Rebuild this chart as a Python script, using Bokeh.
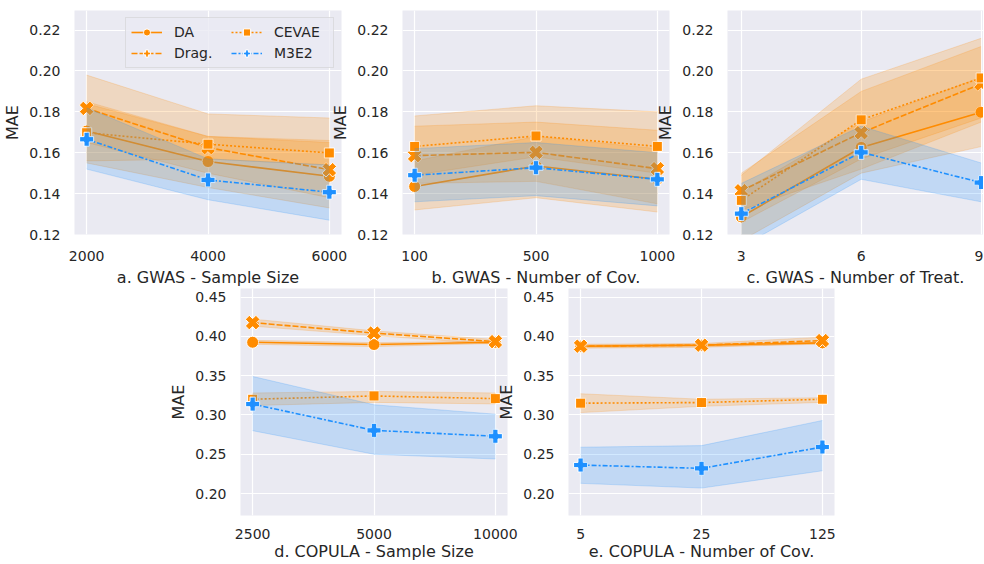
import numpy as np
from bokeh.plotting import figure
from bokeh.layouts import row, column
from bokeh.models import FixedTicker, Range1d, Legend, LegendItem, PrintfTickFormatter
from bokeh.embed import file_html
from bokeh.resources import INLINE

methods = ["DA", "Drag.", "CEVAE", "M3E2"]

# ---- a. GWAS - Sample Size
a_x = ["2000", "4000", "6000"]
a_da = [0.1706, 0.1557, 0.1485];    a_da_lo = [0.155, 0.143, 0.133];    a_da_hi = [0.185, 0.168, 0.165]
a_drag = [0.1817, 0.1625, 0.1517];  a_drag_lo = [0.165, 0.150, 0.138];  a_drag_hi = [0.198, 0.179, 0.177]
a_cevae = [0.1698, 0.1642, 0.1599]; a_cevae_lo = [0.156, 0.157, 0.154]; a_cevae_hi = [0.184, 0.168, 0.166]
a_m3e2 = [0.1666, 0.1467, 0.1407];  a_m3e2_lo = [0.152, 0.137, 0.127];  a_m3e2_hi = [0.182, 0.157, 0.154]

# ---- b. GWAS - Number of Cov.
b_x = ["100", "500", "1000"]
b_da = [0.1435, 0.1535, 0.1470];    b_da_lo = [0.132, 0.138, 0.131];    b_da_hi = [0.156, 0.168, 0.162]
b_drag = [0.1586, 0.1602, 0.1522];  b_drag_lo = [0.145, 0.146, 0.135];  b_drag_hi = [0.173, 0.175, 0.171]
b_cevae = [0.1631, 0.1682, 0.1631]; b_cevae_lo = [0.149, 0.158, 0.150]; b_cevae_hi = [0.178, 0.183, 0.180]
b_m3e2 = [0.1490, 0.1527, 0.1470];  b_m3e2_lo = [0.136, 0.139, 0.134];  b_m3e2_hi = [0.162, 0.165, 0.160]

# ---- c. GWAS - Number of Treat.
c_x = ["3", "6", "9"]
c_da = [0.1286, 0.1626, 0.1798];    c_da_lo = [0.117, 0.150, 0.163];    c_da_hi = [0.141, 0.175, 0.197]
c_drag = [0.1414, 0.1698, 0.1937];  c_drag_lo = [0.132, 0.152, 0.175];  c_drag_hi = [0.150, 0.190, 0.212]
c_cevae = [0.1367, 0.1761, 0.1966]; c_cevae_lo = [0.126, 0.157, 0.177]; c_cevae_hi = [0.149, 0.196, 0.216]
c_m3e2 = [0.1302, 0.1602, 0.1454];  c_m3e2_lo = [0.114, 0.147, 0.136];  c_m3e2_hi = [0.145, 0.173, 0.155]

# ---- d. COPULA - Sample Size
d_x = ["2500", "5000", "10000"]
d_da = [0.3925, 0.3896, 0.3925];    d_da_lo = [0.390, 0.387, 0.391];    d_da_hi = [0.395, 0.392, 0.394]
d_drag = [0.4175, 0.4042, 0.3933];  d_drag_lo = [0.413, 0.401, 0.390];  d_drag_hi = [0.422, 0.407, 0.396]
d_cevae = [0.3200, 0.3242, 0.3208]; d_cevae_lo = [0.312, 0.316, 0.314]; d_cevae_hi = [0.328, 0.330, 0.328]
d_m3e2 = [0.3138, 0.2804, 0.2729];  d_m3e2_lo = [0.280, 0.250, 0.244];  d_m3e2_hi = [0.349, 0.313, 0.301]

# ---- e. COPULA - Number of Cov.
e_x = ["5", "25", "125"]
e_da = [0.3875, 0.3888, 0.3917];    e_da_lo = [0.386, 0.387, 0.390];    e_da_hi = [0.389, 0.390, 0.393]
e_drag = [0.3875, 0.3888, 0.3946];  e_drag_lo = [0.385, 0.386, 0.391];  e_drag_hi = [0.390, 0.391, 0.399]
e_cevae = [0.3150, 0.3158, 0.3200]; e_cevae_lo = [0.303, 0.311, 0.316]; e_cevae_hi = [0.327, 0.320, 0.322]
e_m3e2 = [0.2363, 0.2321, 0.2592];  e_m3e2_lo = [0.213, 0.207, 0.229];  e_m3e2_hi = [0.259, 0.261, 0.293]

top_yticks = [0.12, 0.14, 0.16, 0.18, 0.20, 0.22]
bot_yticks = [0.20, 0.25, 0.30, 0.35, 0.40, 0.45]

ORANGE = "#ff8c00"
BLUE = "#1e90ff"
colors = [ORANGE, ORANGE, ORANGE, BLUE]
dashes = ["solid", "6 2", "2 2", "5 2 2 2"]
markers = ["circle", "plus", "square", "plus"]
msizes = [12, 15, 10, 14]
angles = [0, np.pi / 4, 0, 0]
FONT = "DejaVu Sans"
TXT = "#262626"


def make_panel(xcats, series, ylim, yticks, xlabel, width, height, left, right, top,
               bottom, xr, tick_sd=10, lab_sd=4, legend=False):
    p = figure(width=width, height=height, output_backend="svg", toolbar_location=None,
               x_range=Range1d(*xr), y_range=Range1d(*ylim),
               min_border_left=left, min_border_right=right, min_border_top=top,
               min_border_bottom=bottom, background_fill_color="#eaeaf2",
               border_fill_color=None, outline_line_color=None)
    xs = list(range(len(xcats)))
    p.xaxis.ticker = FixedTicker(ticks=xs)
    p.xaxis.major_label_overrides = {i: c for i, c in enumerate(xcats)}
    p.yaxis.ticker = FixedTicker(ticks=yticks)
    p.yaxis.formatter = PrintfTickFormatter(format="%.2f")
    for ax in (p.xaxis[0], p.yaxis[0]):
        ax.axis_line_color = None
        ax.major_tick_line_color = None
        ax.minor_tick_line_color = None
        ax.major_label_text_font = FONT
        ax.major_label_text_font_size = "14px"
        ax.major_label_text_color = TXT
        ax.axis_label_text_font = FONT
        ax.axis_label_text_font_size = "16px"
        ax.axis_label_text_color = TXT
        ax.axis_label_text_font_style = "normal"
    p.xaxis.axis_label = xlabel
    p.yaxis.axis_label = "MAE"
    p.xaxis.major_label_standoff = tick_sd
    p.xaxis.axis_label_standoff = lab_sd
    p.yaxis.major_label_standoff = 8
    p.yaxis.axis_label_standoff = 4
    p.grid.grid_line_color = "white"
    p.grid.grid_line_width = 1.2

    items = []
    for k, (mean, lo, hi) in enumerate(series):
        ln = p.line(xs, mean, line_color=colors[k], line_width=1.6, line_dash=dashes[k])
        sc = p.scatter(xs, mean, marker=markers[k], size=msizes[k], angle=angles[k],
                       fill_color=colors[k], line_color="white", line_width=1)
        p.varea(x=xs, y1=lo, y2=hi, fill_color=colors[k], fill_alpha=0.2)
        p.line(xs, lo, line_color=colors[k], line_alpha=0.2, line_width=1)
        p.line(xs, hi, line_color=colors[k], line_alpha=0.2, line_width=1)
        items.append(LegendItem(label=methods[k], renderers=[ln, sc]))
    if legend:
        leg = Legend(items=items, location="top_right", nrows=2, margin=7, padding=5,
                     spacing=3, glyph_width=31, glyph_height=18, label_height=18,
                     label_width=54, label_standoff=12,
                     label_text_font=FONT, label_text_font_size="14px",
                     label_text_color=TXT, background_fill_color="#eaeaf2",
                     background_fill_alpha=0.8, border_line_color="#cccccc",
                     border_line_width=1)
        p.add_layout(leg)
    return p


TOP_H = 289
BOT_H = 277
top_ylim = (0.12, 0.2296)
bot_ylim = (0.1721, 0.4609)

pa = make_panel(a_x, [(a_da, a_da_lo, a_da_hi), (a_drag, a_drag_lo, a_drag_hi),
                      (a_cevae, a_cevae_lo, a_cevae_hi), (a_m3e2, a_m3e2_lo, a_m3e2_hi)],
                top_ylim, top_yticks, "a. GWAS - Sample Size", 349, TOP_H, 71, 8, 10, 50,
                (-0.1, 2.1), legend=True)
pb = make_panel(b_x, [(b_da, b_da_lo, b_da_hi), (b_drag, b_drag_lo, b_drag_hi),
                      (b_cevae, b_cevae_lo, b_cevae_hi), (b_m3e2, b_m3e2_lo, b_m3e2_hi)],
                top_ylim, top_yticks, "b. GWAS - Number of Cov.", 349, TOP_H, 70, 8, 10, 50,
                (-0.1, 2.1))
pc = make_panel(c_x, [(c_da, c_da_lo, c_da_hi), (c_drag, c_drag_lo, c_drag_hi),
                      (c_cevae, c_cevae_lo, c_cevae_hi), (c_m3e2, c_m3e2_lo, c_m3e2_hi)],
                top_ylim, top_yticks, "c. GWAS - Number of Treat.", 330, TOP_H, 70, 0, 10, 50,
                (-0.115, 2.02))
pd_ = make_panel(d_x, [(d_da, d_da_lo, d_da_hi), (d_drag, d_drag_lo, d_drag_hi),
                       (d_cevae, d_cevae_lo, d_cevae_hi), (d_m3e2, d_m3e2_lo, d_m3e2_hi)],
                 bot_ylim, bot_yticks, "d. COPULA - Sample Size", 353, BOT_H, 70, 12, 2, 44,
                 (-0.1, 2.1), tick_sd=7, lab_sd=0)
pe = make_panel(e_x, [(e_da, e_da_lo, e_da_hi), (e_drag, e_drag_lo, e_drag_hi),
                      (e_cevae, e_cevae_lo, e_cevae_hi), (e_m3e2, e_m3e2_lo, e_m3e2_hi)],
                bot_ylim, bot_yticks, "e. COPULA - Number of Cov.", 348, BOT_H, 70, 8, 2, 44,
                (-0.1, 2.1), tick_sd=7, lab_sd=0)

pb.margin = (0, 0, 0, -21)
pc.margin = (0, 0, 0, -24)
pd_.margin = (-3, 0, 0, 166)
pe.margin = (-3, 0, 0, -25)

layout = column(row(pa, pb, pc), row(pd_, pe))

open("out.html", "w").write(file_html(layout, INLINE))
